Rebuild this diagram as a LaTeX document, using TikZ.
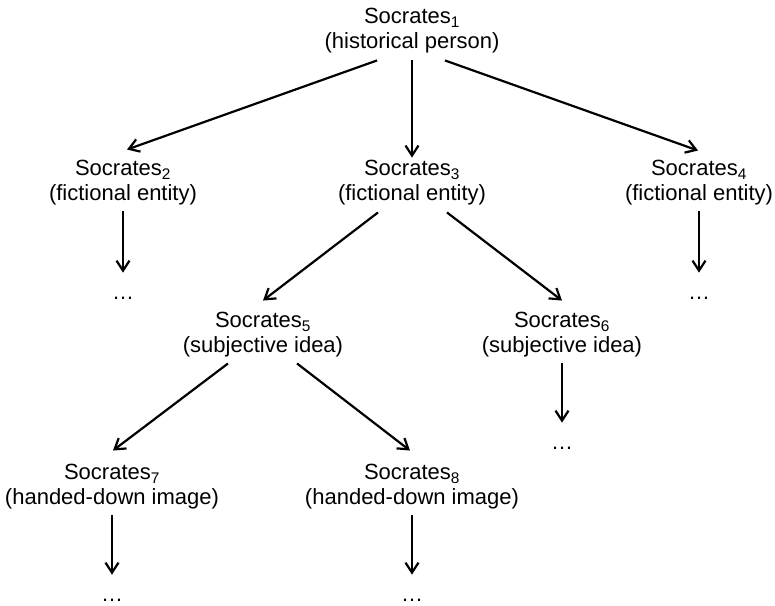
\documentclass[tikz,border=0pt]{standalone}
\usepackage{fontspec}
\setmainfont{Liberation Sans}
\usepackage{tikz}
\usetikzlibrary{arrows.meta}

\begin{document}
\begin{tikzpicture}[x=1pt,y=-1pt,
  soc/.style={align=center,inner sep=0pt,outer sep=0pt,font=\fontsize{22}{25}\selectfont},
  more/.style={anchor=base,inner sep=0pt,outer sep=0pt,font=\fontsize{22}{25}\selectfont},
  arr/.style={-{Straight Barb[length=10pt,width=13pt]},line width=2.2pt},
  down/.style={arr,shorten <=6pt,shorten >=24pt}]
  \useasboundingbox (0,0) rectangle (775,605);
  % Socrates nodes
  \node[soc] (s1) at (412,31) {Socrates\textsubscript{1}\\(historical person)};
  \node[soc] (s2) at (123,183) {Socrates\textsubscript{2}\\(fictional entity)};
  \node[soc] (s3) at (412,183) {Socrates\textsubscript{3}\\(fictional entity)};
  \node[soc] (s4) at (699,183) {Socrates\textsubscript{4}\\(fictional entity)};
  \node[soc] (s5) at (263,335) {Socrates\textsubscript{5}\\(subjective idea)};
  \node[soc] (s6) at (562,335) {Socrates\textsubscript{6}\\(subjective idea)};
  \node[soc] (s7) at (112,487) {Socrates\textsubscript{7}\\(handed-down image)};
  \node[soc] (s8) at (412,487) {Socrates\textsubscript{8}\\(handed-down image)};
  % Ellipses
  \node[more] (d2) at (123,299) {\ldots};
  \node[more] (d4) at (699,299) {\ldots};
  \node[more] (d6) at (562,449) {\ldots};
  \node[more] (d7) at (112,601) {\ldots};
  \node[more] (d8) at (412,601) {\ldots};
  % Arrows
  \draw[arr] ([xshift=-35pt,yshift=-7pt]s1.south) -- ([xshift=4pt,yshift=11pt]s2.north);
  \draw[arr] ([yshift=-7pt]s1.south) -- ([yshift=3pt]s3.north);
  \draw[arr] ([xshift=33pt,yshift=-7pt]s1.south) -- ([xshift=-1pt,yshift=10pt]s4.north);
  \draw[arr] ([xshift=-34pt,yshift=-7pt]s3.south) -- ([yshift=12pt]s5.north);
  \draw[arr] ([xshift=35pt,yshift=-7pt]s3.south) -- ([yshift=12pt]s6.north);
  \draw[arr] ([xshift=-35pt,yshift=-6pt]s5.south) -- ([xshift=1pt,yshift=14pt]s7.north);
  \draw[arr] ([xshift=34pt,yshift=-6pt]s5.south) -- ([xshift=-2pt,yshift=14pt]s8.north);
  \draw[down] (s2.south) -- (d2.north);
  \draw[down] (s4.south) -- (d4.north);
  \draw[down] (s6.south) -- (d6.north);
  \draw[down] (s7.south) -- (d7.north);
  \draw[down] (s8.south) -- (d8.north);
\end{tikzpicture}
\end{document}
